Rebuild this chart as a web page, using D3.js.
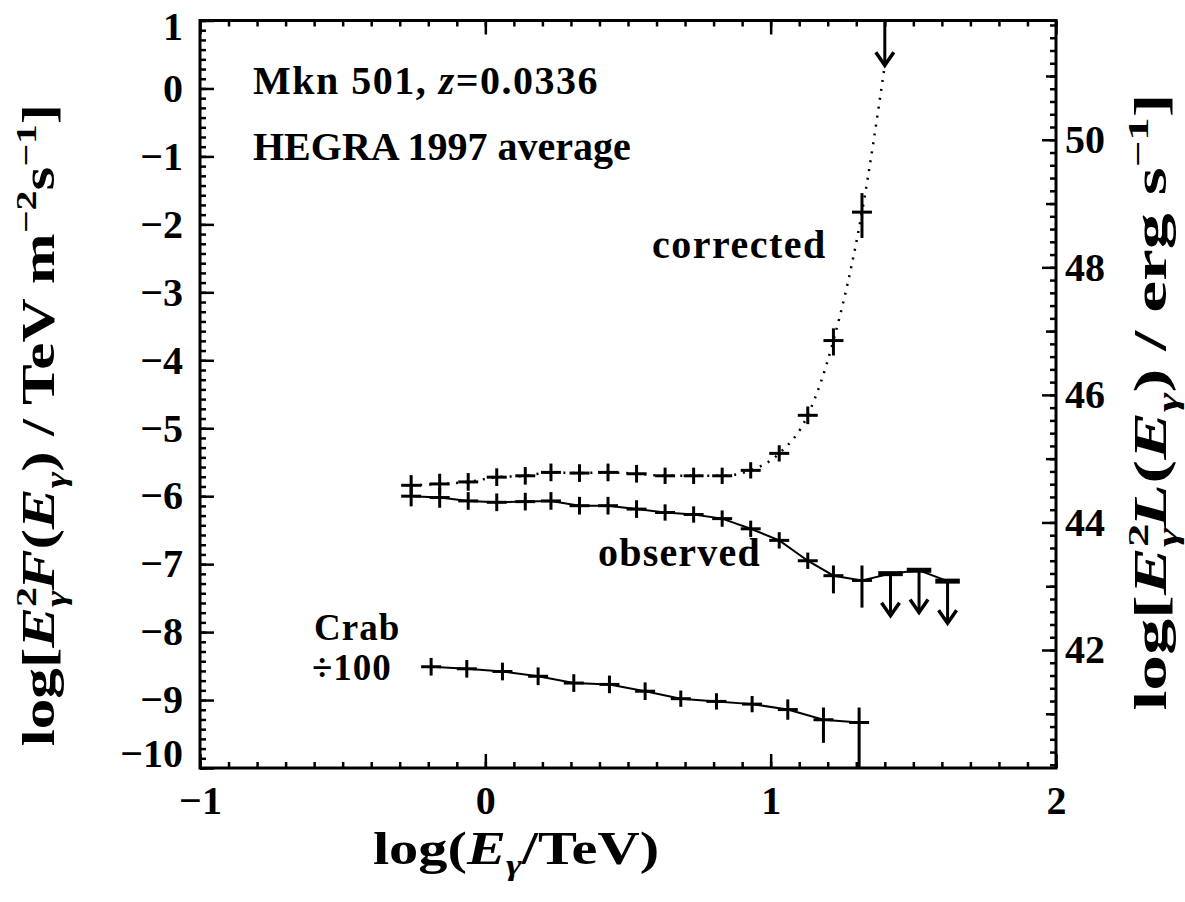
<!DOCTYPE html>
<html><head><meta charset="utf-8">
<script src="https://cdn.jsdelivr.net/npm/d3@7"></script>
<style>body{margin:0;background:#fff} svg{display:block;background:#fff}</style>
</head><body><svg id="c" width="1185" height="902"></svg>
<script>
// ---- data ----
const obsX      = [-0.26,-0.16,-0.06,0.04,0.14,0.23,0.33,0.43,0.53,0.63,0.73,0.83,0.93,1.03,1.13,1.22,1.32];
const obsY      = [-6.00,-6.02,-6.07,-6.09,-6.08,-6.07,-6.14,-6.14,-6.19,-6.24,-6.27,-6.33,-6.48,-6.65,-6.95,-7.17,-7.24];
const obsErrUp  = [0.15,0.15,0.13,0.13,0.13,0.13,0.13,0.13,0.13,0.12,0.12,0.12,0.12,0.12,0.12,0.15,0.22];
const obsErrDn  = [0.15,0.15,0.13,0.13,0.13,0.13,0.13,0.13,0.13,0.12,0.12,0.12,0.12,0.12,0.12,0.26,0.40];
const obsULX    = [1.42,1.52,1.62];
const obsULY    = [-7.14,-7.09,-7.25];

const corX      = [-0.26,-0.16,-0.06,0.04,0.14,0.23,0.33,0.43,0.53,0.63,0.73,0.83,0.93,1.03,1.13,1.22,1.32];
const corY      = [-5.84,-5.82,-5.79,-5.72,-5.70,-5.65,-5.66,-5.65,-5.67,-5.70,-5.70,-5.70,-5.62,-5.37,-4.81,-3.71,-1.82];
const corErrUp  = [0.15,0.15,0.13,0.13,0.13,0.13,0.13,0.13,0.13,0.12,0.12,0.12,0.12,0.12,0.13,0.18,0.28];
const corErrDn  = [0.15,0.15,0.13,0.13,0.13,0.13,0.13,0.13,0.13,0.12,0.12,0.12,0.12,0.12,0.13,0.22,0.38];
const corULX    = [1.40];
const corULY    = [1.0];

const crabX     = [-0.19,-0.065,0.06,0.185,0.31,0.435,0.56,0.685,0.81,0.935,1.06,1.185,1.31];
const crabY     = [-8.51,-8.54,-8.58,-8.65,-8.75,-8.77,-8.87,-8.98,-9.02,-9.06,-9.14,-9.29,-9.33];
const crabErrUp = [0.13,0.13,0.13,0.13,0.13,0.13,0.13,0.12,0.12,0.12,0.15,0.18,0.22];
const crabErrDn = [0.13,0.13,0.13,0.13,0.13,0.13,0.13,0.12,0.12,0.12,0.15,0.34,0.67];

const binHalf   = 0.035;   // half width of the energy bins (log units)
const ulLenObs  = 0.62;    // length of upper-limit arrows
const ulLenCor  = 0.66;

const xTicks = [-1, 0, 1, 2];
const yTicks = [-10,-9,-8,-7,-6,-5,-4,-3,-2,-1,0,1];
const rTicks = [42, 44, 46, 48, 50];

// ---- layout ----
const L = 200, R = 1056, T = 20.5, B = 768;
const FONT = "'Liberation Serif', 'Times New Roman', serif";

const svg = d3.select('#c');
const x  = d3.scaleLinear().domain([-1, 2]).range([L, R]);
const y  = d3.scaleLinear().domain([-10, 1]).range([B, T]);
const yR = d3.scaleLinear().domain([40.15, 51.87]).range([B, T]);

const fmt = d => d < 0 ? '\u2212' + Math.abs(d) : String(d);
const styleAxis = g => {
  g.select('.domain').remove();
  g.selectAll('line').attr('stroke', '#000').attr('stroke-width', 2.5);
  g.selectAll('text').attr('font-family', FONT).attr('font-size', 40)
    .attr('font-weight', 'bold').attr('fill', '#000');
};

// minor ticks
const rng = (a, b, s) => d3.range(0, Math.round((b - a) / s) + 1).map(i => a + i * s);
svg.append('g').attr('transform', `translate(0,${B})`)
  .call(d3.axisBottom(x).tickValues(rng(-1, 2, 0.1)).tickSize(-6).tickFormat('')).call(styleAxis);
svg.append('g').attr('transform', `translate(0,${T})`)
  .call(d3.axisTop(x).tickValues(rng(-1, 2, 0.1)).tickSize(-6).tickFormat('')).call(styleAxis);
svg.append('g').attr('transform', `translate(${L},0)`)
  .call(d3.axisLeft(y).tickValues(rng(-10, 1, 1/7)).tickSize(-6).tickFormat('')).call(styleAxis);
svg.append('g').attr('transform', `translate(${R},0)`)
  .call(d3.axisRight(yR).tickValues(rng(40.2, 51.8, 0.2)).tickSize(-6).tickFormat('')).call(styleAxis);
svg.append('g').attr('transform', `translate(${R},0)`)
  .call(d3.axisRight(yR).tickValues(d3.range(41, 52, 2)).tickSize(-10).tickFormat('')).call(styleAxis);

// major ticks + labels
svg.append('g').attr('transform', `translate(0,${B})`)
  .call(d3.axisBottom(x).tickValues(xTicks).tickSize(-14).tickPadding(18).tickFormat(fmt)).call(styleAxis);
svg.append('g').attr('transform', `translate(0,${T})`)
  .call(d3.axisTop(x).tickValues(xTicks).tickSize(-14).tickFormat('')).call(styleAxis);
const gl = svg.append('g').attr('transform', `translate(${L},0)`)
  .call(d3.axisLeft(y).tickValues(yTicks).tickSize(-14).tickPadding(17).tickFormat(fmt)).call(styleAxis);
gl.selectAll('.tick text').attr('transform', d => d === 1 ? 'translate(0,6)' : d === -10 ? 'translate(0,-14)' : null);
svg.append('g').attr('transform', `translate(${R},0)`)
  .call(d3.axisRight(yR).tickValues(rTicks).tickSize(-14).tickPadding(9).tickFormat(fmt)).call(styleAxis);

// frame
svg.append('rect').attr('x', L).attr('y', T).attr('width', R - L).attr('height', B - T)
  .attr('fill', 'none').attr('stroke', '#000').attr('stroke-width', 3);

// ---- series ----
const plot = svg.append('g');
const pts = (X, Y) => X.map((v, i) => [v, Y[i]]);
const lineLin = d3.line().x(d => x(d[0])).y(d => y(d[1]));
const lineSmooth = d3.line().x(d => x(d[0])).y(d => y(d[1])).curve(d3.curveMonotoneX);

plot.append('path')
  .attr('d', lineLin(pts(obsX, obsY).concat(pts(obsULX, obsULY))))
  .attr('fill', 'none').attr('stroke', '#000').attr('stroke-width', 2);
plot.append('path')
  .attr('d', lineSmooth(pts(corX, corY).concat(corULX.map((v, i) => [v, corULY[i] - ulLenCor]))))
  .attr('fill', 'none').attr('stroke', '#000').attr('stroke-width', 2.5)
  .attr('stroke-dasharray', '2,7');
plot.append('path')
  .attr('d', lineLin(pts(crabX, crabY)))
  .attr('fill', 'none').attr('stroke', '#000').attr('stroke-width', 2);

function crosses(X, Y, up, dn) {
  const g = plot.append('g').attr('stroke', '#000').attr('stroke-width', 3);
  X.forEach((v, i) => {
    g.append('line').attr('x1', x(v - binHalf)).attr('x2', x(v + binHalf))
      .attr('y1', y(Y[i])).attr('y2', y(Y[i]));
    g.append('line').attr('x1', x(v)).attr('x2', x(v))
      .attr('y1', y(Y[i] + up[i])).attr('y2', y(Y[i] - dn[i]));
  });
}
crosses(obsX, obsY, obsErrUp, obsErrDn);
crosses(corX, corY, corErrUp, corErrDn);
crosses(crabX, crabY, crabErrUp, crabErrDn);

function upperLimits(X, Y, len, bar) {
  const g = plot.append('g').attr('stroke', '#000').attr('fill', 'none');
  X.forEach((v, i) => {
    const top = Math.max(y(Y[i]), T);
    const tip = y(Y[i] - len);
    if (bar) g.append('line').attr('x1', x(v - 0.043)).attr('x2', x(v + 0.043))
      .attr('y1', y(Y[i])).attr('y2', y(Y[i])).attr('stroke-width', 5);
    g.append('line').attr('x1', x(v)).attr('x2', x(v)).attr('y1', top).attr('y2', tip)
      .attr('stroke-width', 3);
    g.append('path').attr('d', `M${x(v) - 9},${tip - 13} L${x(v)},${tip} L${x(v) + 9},${tip - 13}`)
      .attr('stroke-width', 3.5);
  });
}
upperLimits(obsULX, obsULY, ulLenObs, true);
upperLimits(corULX, corULY, ulLenCor, false);

// ---- text ----
function txt(xp, yp, size) {
  return svg.append('text').attr('x', xp).attr('y', yp).attr('font-family', FONT)
    .attr('font-size', size).attr('font-weight', 'bold').attr('fill', '#000');
}
const t1 = txt(253, 94, 40).attr('letter-spacing', 1.5);
t1.append('tspan').text('Mkn 501, ');
t1.append('tspan').attr('font-style', 'italic').text('z');
t1.append('tspan').text('=0.0336');
txt(253, 160, 40).text('HEGRA 1997 average');
txt(652, 258, 40).attr('letter-spacing', 1.5).text('corrected');
txt(598, 566, 40).attr('letter-spacing', 1.2).text('observed');
txt(314, 640, 37).attr('letter-spacing', 1).text('Crab');
txt(312, 680, 37).attr('letter-spacing', 1).text('\u00f7100');

// x title
const tx = txt(0, 0, 46).attr('text-anchor', 'middle')
  .attr('transform', 'translate(516,864) scale(1.27,1)');
tx.append('tspan').text('log(');
tx.append('tspan').attr('font-style', 'italic').text('E');
tx.append('tspan').attr('font-style', 'italic').attr('font-size', 30).attr('dy', 11).text('\u03b3');
tx.append('tspan').attr('dy', -11).text('/TeV)');

// left title
const tl = txt(0, 0, 46).attr('text-anchor', 'middle')
  .attr('transform', 'translate(54,425) rotate(-90) scale(1.33,1)');
tl.append('tspan').text('log[');
tl.append('tspan').attr('font-style', 'italic').text('E');
tl.append('tspan').attr('font-size', 30).attr('dy', -18).text('2');
tl.append('tspan').attr('font-style', 'italic').attr('font-size', 30).attr('dx', -15).attr('dy', 30).text('\u03b3');
tl.append('tspan').attr('font-style', 'italic').attr('dy', -12).text('F');
tl.append('tspan').text('(');
tl.append('tspan').attr('font-style', 'italic').text('E');
tl.append('tspan').attr('font-style', 'italic').attr('font-size', 30).attr('dy', 12).text('\u03b3');
tl.append('tspan').attr('dy', -12).text(') / TeV m');
tl.append('tspan').attr('font-size', 30).attr('dy', -18).text('\u22122');
tl.append('tspan').attr('dy', 18).text('s');
tl.append('tspan').attr('font-size', 30).attr('dy', -18).text('\u22121');
tl.append('tspan').attr('dy', 18).text(']');

// right title
const tr = txt(0, 0, 46).attr('text-anchor', 'middle')
  .attr('transform', 'translate(1166,402) rotate(-90) scale(1.56,1)');
tr.append('tspan').text('log[');
tr.append('tspan').attr('font-style', 'italic').text('E');
tr.append('tspan').attr('font-size', 30).attr('dy', -18).text('2');
tr.append('tspan').attr('font-style', 'italic').attr('font-size', 30).attr('dx', -15).attr('dy', 30).text('\u03b3');
tr.append('tspan').attr('font-style', 'italic').attr('dy', -12).text('L');
tr.append('tspan').text('(');
tr.append('tspan').attr('font-style', 'italic').text('E');
tr.append('tspan').attr('font-style', 'italic').attr('font-size', 30).attr('dy', 12).text('\u03b3');
tr.append('tspan').attr('dy', -12).text(') / erg s');
tr.append('tspan').attr('font-size', 30).attr('dy', -18).text('\u22121');
tr.append('tspan').attr('dy', 18).text(']');
</script></body></html>
